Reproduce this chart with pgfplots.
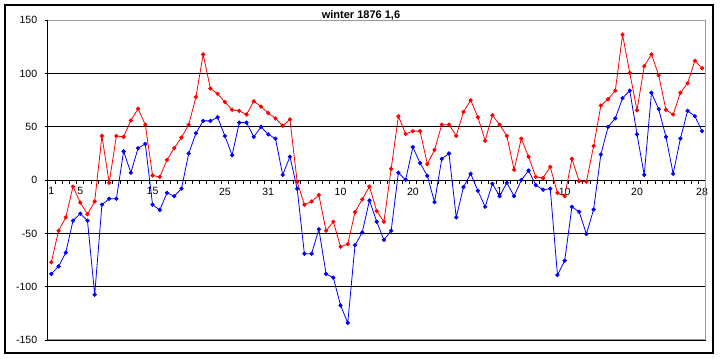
\documentclass[border=0pt]{standalone}
\usepackage{pgfplots}
\usepackage{pgfplotstable}
\pgfplotsset{compat=1.18}
\usepackage{fontspec}
\setmainfont{Liberation Sans}

\pgfplotstableread{
i v
0 -77
1 -47.5
2 -35
3 -6
4 -21
5 -32
6 -20
7 41.5
8 -2.5
9 41.5
10 40.6
11 56
12 67
13 52
14 4.4
15 3
16 19
17 30
18 40
19 52
20 78
21 118
22 86
23 81
24 73.4
25 66
26 65
27 61.6
28 74
29 69
30 63
31 58
32 51
33 57
34 -1.5
35 -23
36 -20
37 -14
38 -47.5
39 -39
40 -62.5
41 -60
42 -30
43 -18
44 -6
45 -29
46 -39
47 10.6
48 60
49 43.4
50 46
51 46
52 15
53 28.4
54 52
55 52
56 41.5
57 64
58 75
59 59
60 37
61 61
62 52
63 41.5
64 9.7
65 39
66 22
67 3
68 2
69 12.5
70 -12
71 -15
72 20
73 -1
74 -1.5
75 32
76 70
77 76
78 84
79 136.5
80 100.6
81 65.6
82 107
83 118
84 98.4
85 66
86 61.6
87 82
88 91
89 112
90 105
}\redtable

\pgfplotstableread{
i v
0 -88
1 -81
2 -68
3 -38
4 -31.5
5 -38
6 -107.5
7 -23
8 -17.5
9 -17.5
10 27
11 7
12 30
13 34
14 -23
15 -28
16 -12
17 -15
18 -8
19 25
20 44
21 55.6
22 55.6
23 59
24 41.5
25 23.4
26 54
27 54
28 40.6
29 50
30 43
31 39
32 5
33 22
34 -8
35 -69
36 -69
37 -46
38 -88
39 -91.5
40 -117.5
41 -134
42 -61
43 -49
44 -19
45 -39
46 -56
47 -47.5
48 7
49 0.3
50 31
51 16
52 4
53 -20.6
54 20
55 25
56 -35
57 -6.6
58 6
59 -10
60 -25
61 -3.4
62 -15
63 -2.5
64 -15
65 0
66 9
67 -4.7
68 -9
69 -8
70 -89
71 -75.6
72 -25
73 -29.7
74 -50.6
75 -27.5
76 24
77 50
78 58
79 77
80 84
81 43
82 5
83 82
84 66.6
85 40.6
86 6
87 39
88 65
89 60
90 46
}\bluetable

\begin{document}
\begin{tikzpicture}[x=1pt,y=1pt]
\useasboundingbox (0,0) rectangle (721,359);
\draw[line width=1.4pt,black] (5,6) rectangle (713,354);
\node[font=\fontsize{11}{13}\selectfont\bfseries] at (361,344) {winter 1876 1,6};
\begin{axis}[
  at={(47.7pt,19pt)}, anchor=south west,
  scale only axis, width=658pt, height=319.7pt,
  xmin=-0.5, xmax=90.5, ymin=-150, ymax=150,
  axis x line*=middle, axis y line*=left,
  axis line style={black, line width=0.8pt},
  xtick={0,4,14,24,30,40,50,62,71,81,90},
  xticklabels={1,5,15,25,31,10,20,1,10,20,28},
  minor xtick={-0.5,0.5,...,90.5},
  major x tick style={draw=none},
  minor tick length=4pt,
  xtick align=outside,
  ytick={-150,-100,...,150},
  ytick align=outside,
  major tick length=3pt,
  tick style={black, line width=0.8pt},
  ymajorgrids, grid style={black, line width=0.8pt},
  ticklabel style={font=\fontsize{10.5}{12}\selectfont},
  /pgf/number format/assume math mode=true,
  xticklabel style={yshift=-1pt},
  yticklabel style={xshift=-4pt},
  clip=false,
]
\addplot[blue, line width=0.8pt, mark=*, mark size=1.7pt, mark options={fill=blue, draw=blue}] table[x=i,y=v] {\bluetable};
\addplot[red, line width=0.8pt, mark=*, mark size=1.7pt, mark options={fill=red, draw=red}] table[x=i,y=v] {\redtable};
\draw[gray!80, line width=1pt] (rel axis cs:0,1) -- (rel axis cs:1,1) -- (rel axis cs:1,0) -- (rel axis cs:0,0);
\draw[black, line width=0.8pt] (rel axis cs:0,0) -- (rel axis cs:0,1);
\end{axis}
\end{tikzpicture}
\end{document}
